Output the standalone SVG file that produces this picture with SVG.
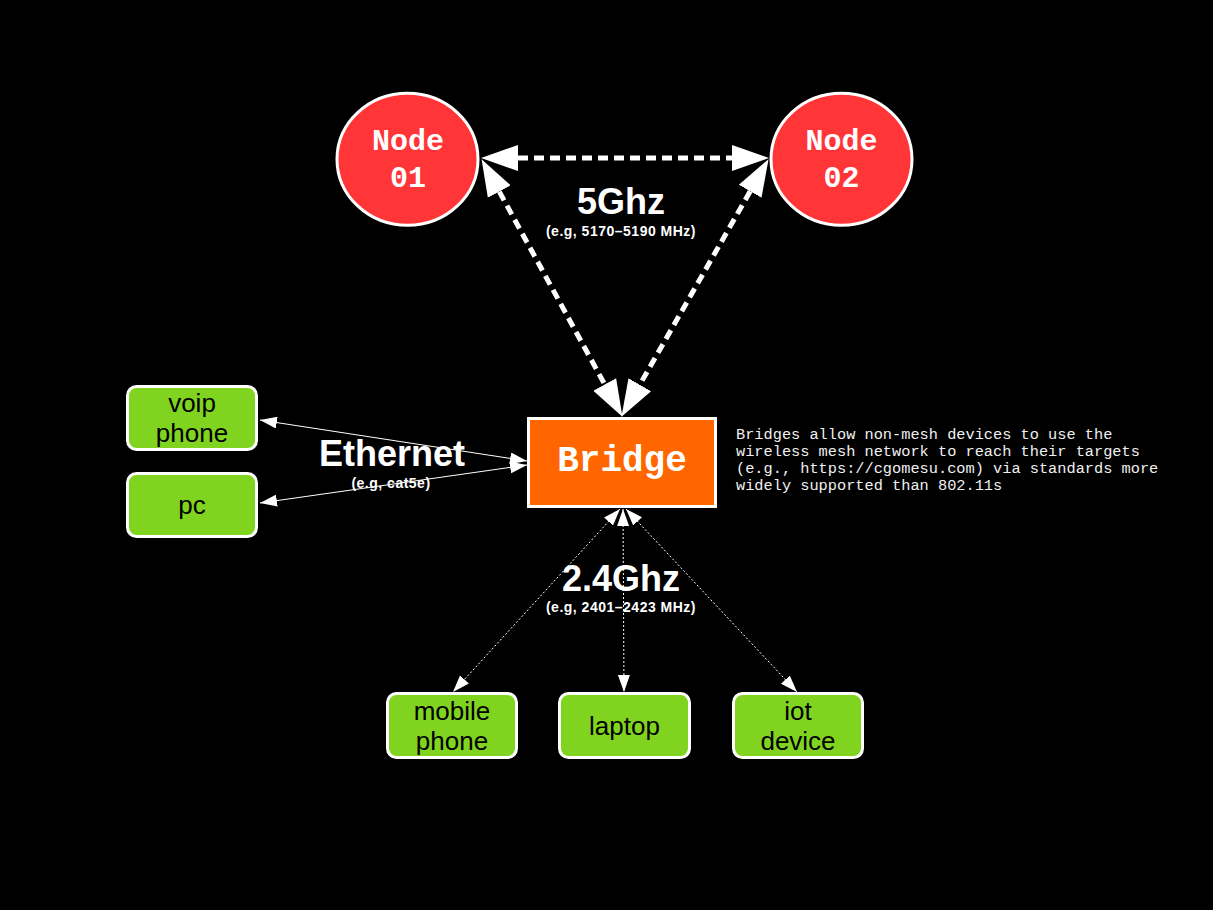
<svg xmlns="http://www.w3.org/2000/svg" width="1213" height="910" viewBox="0 0 1213 910">
<style>
.bg{fill:#000}
.node{fill:#FF3538;stroke:#fff;stroke-width:3}
.bridge{fill:#FF6600;stroke:#fff;stroke-width:3}
.dev{fill:#80D41F;stroke:#fff;stroke-width:3}
.mono{font-family:"Liberation Mono","DejaVu Sans Mono",monospace;font-weight:bold;fill:#fff;text-anchor:middle}
.devt{font-family:"Liberation Sans",Arial,sans-serif;font-size:26px;fill:#000;text-anchor:middle}
.big{font-family:"Liberation Sans",Arial,sans-serif;font-size:36px;font-weight:bold;fill:#fff;text-anchor:middle}
.small{font-family:"Liberation Sans",Arial,sans-serif;font-size:14px;font-weight:bold;fill:#fff;text-anchor:middle;letter-spacing:0.5px}
.note{font-family:"Liberation Mono","DejaVu Sans Mono",monospace;font-size:15.3px;fill:#f0f0f0}
.thick{stroke:#fff;stroke-width:5;stroke-dasharray:10 6;fill:none;marker-start:url(#big);marker-end:url(#big)}
.solid{stroke:#fff;stroke-width:1;fill:none;marker-start:url(#thin);marker-end:url(#thin)}
.dot{stroke:#fff;stroke-width:1;stroke-dasharray:2 2;fill:none;marker-start:url(#thin);marker-end:url(#thin)}
</style>
<defs>
<marker id="big" markerUnits="userSpaceOnUse" markerWidth="38" markerHeight="28" refX="0" refY="13" orient="auto-start-reverse" viewBox="0 0 38 26">
<path d="M0,0 L37,13 L0,26 Z" fill="#fff"/>
</marker>
<marker id="thin" markerUnits="userSpaceOnUse" markerWidth="18" markerHeight="12" refX="17" refY="6" orient="auto-start-reverse" viewBox="0 0 18 12">
<path d="M0,0 L17,6 L0,12 Z" fill="#fff"/>
</marker>
</defs>
<rect class="bg" x="0" y="0" width="1213" height="910"/>
<g id="connectors">
<line class="thick" x1="518" y1="158" x2="732" y2="158"/>
<line class="thick" x1="499.3" y1="191.6" x2="604.7" y2="384.4"/>
<line class="thick" x1="750.2" y1="191.3" x2="639.8" y2="384.7"/>
<line class="solid" x1="260" y1="420" x2="527" y2="461"/>
<line class="solid" x1="260" y1="503" x2="527" y2="465"/>
<line class="dot" x1="620" y1="509" x2="453" y2="692"/>
<line class="dot" x1="623" y1="509" x2="624" y2="692"/>
<line class="dot" x1="626" y1="509" x2="797" y2="692"/>
</g>
<g id="labels">
<text class="big" x="621" y="214">5Ghz</text>
<text class="small" x="621" y="236">(e.g, 5170–5190 MHz)</text>
<text class="big" x="392" y="466">Ethernet</text>
<text class="small" x="391" y="488">(e.g, cat5e)</text>
<text class="big" x="621" y="591">2.4Ghz</text>
<text class="small" x="621" y="612">(e.g, 2401–2423 MHz)</text>
</g>
<g id="node01">
<ellipse class="node" cx="407.5" cy="159.3" rx="70.5" ry="66"/>
<text class="mono" x="408" y="150" font-size="30">Node</text>
<text class="mono" x="408" y="187" font-size="30">01</text>
</g>
<g id="node02">
<ellipse class="node" cx="841.5" cy="159.3" rx="70.5" ry="66"/>
<text class="mono" x="841.5" y="150" font-size="30">Node</text>
<text class="mono" x="841.5" y="187" font-size="30">02</text>
</g>
<g id="bridge">
<rect class="bridge" x="528.5" y="418.5" width="187" height="88"/>
<text class="mono" x="622" y="471" font-size="36">Bridge</text>
</g>
<g id="note">
<text class="note" x="736" y="439">Bridges allow non-mesh devices to use the</text>
<text class="note" x="736" y="456">wireless mesh network to reach their targets</text>
<text class="note" x="736" y="473">(e.g., https://cgomesu.com) via standards more</text>
<text class="note" x="736" y="490">widely supported than 802.11s</text>
</g>
<g id="voip">
<rect class="dev" x="127.5" y="386.5" width="129" height="63" rx="9"/>
<text class="devt" x="192" y="412">voip</text>
<text class="devt" x="192" y="442">phone</text>
</g>
<g id="pc">
<rect class="dev" x="127.5" y="473.5" width="129" height="63" rx="9"/>
<text class="devt" x="192" y="514">pc</text>
</g>
<g id="mobile">
<rect class="dev" x="387.5" y="693.5" width="129" height="64" rx="9"/>
<text class="devt" x="452" y="720">mobile</text>
<text class="devt" x="452" y="750">phone</text>
</g>
<g id="laptop">
<rect class="dev" x="559.5" y="693.5" width="130" height="64" rx="9"/>
<text class="devt" x="624.5" y="735">laptop</text>
</g>
<g id="iot">
<rect class="dev" x="733.5" y="693.5" width="129" height="64" rx="9"/>
<text class="devt" x="798" y="720">iot</text>
<text class="devt" x="798" y="750">device</text>
</g>
</svg>
